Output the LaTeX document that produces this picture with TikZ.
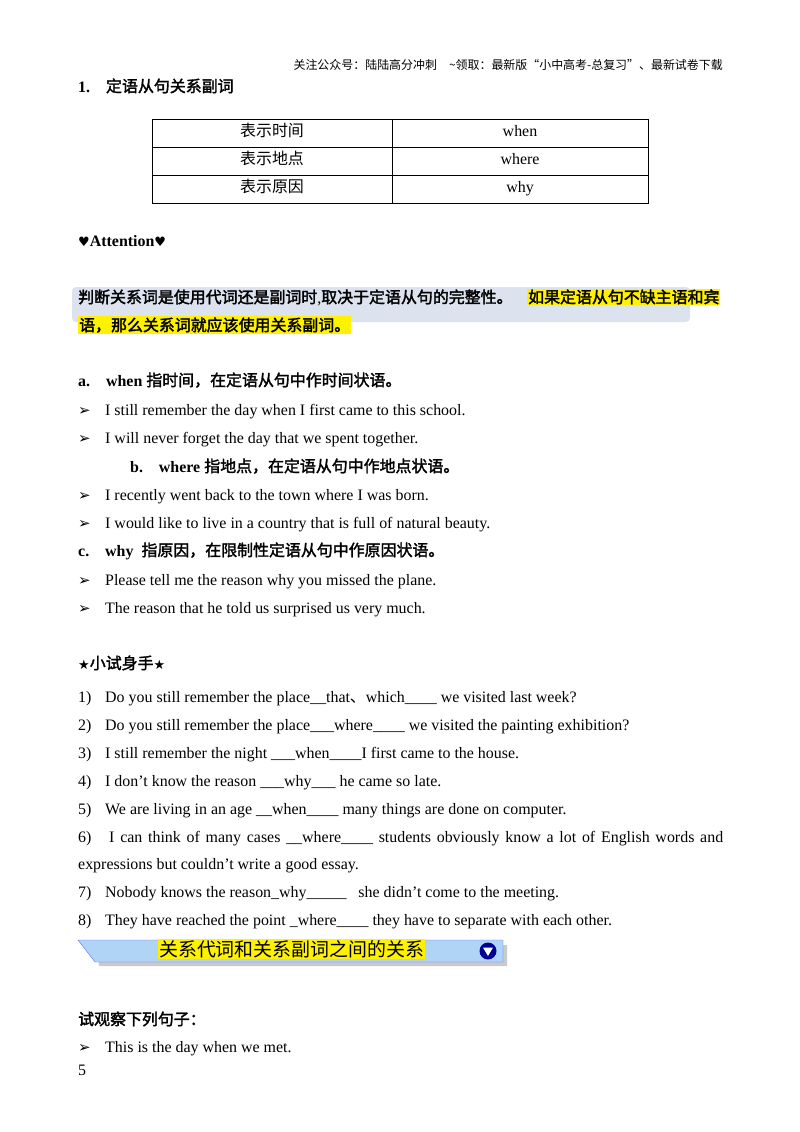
\documentclass[tikz,border=0pt]{standalone}
\usepackage{fontspec}
\setmainfont{Liberation Serif}
\newfontfamily\cjk{Noto Sans CJK SC}
\newfontfamily\cjkb{Noto Sans CJK SC}[FakeBold=2]
\newfontfamily\sym{DejaVu Sans}
\definecolor{bannerblue}{RGB}{175,212,245}
\definecolor{boxgray}{RGB}{220,226,238}
\begin{document}
\begin{tikzpicture}[x=1bp,y=-1bp,
  t/.style={anchor=base west,inner sep=0pt,font=\fontsize{16}{18}\selectfont},
  hl/.style={fill=yellow,inner sep=1pt},
  bul/.style={anchor=base west,inner sep=0pt,font=\sym\fontsize{15}{16}\selectfont},
  cell/.style={draw=black,line width=0.6pt}]
\useasboundingbox (0,0) rectangle (800,1132);
\node[anchor=base east,inner sep=0pt,font=\fontsize{12}{14}\selectfont] (hd) at (723,69) {{\cjk 关注公众号：陆陆高分冲刺\quad\textasciitilde 领取：最新版“小中高考-总复习”、最新试卷下载}};
\node[t] (h1) at (78,92) {\textbf{1.}\quad{\cjkb 定语从句关系副词}};
% table
\draw[cell] (152,119) rectangle (648,203);
\draw[cell] (152,147) -- (648,147) (152,175) -- (648,175) (392,119) -- (392,203);
\foreach \y/\a/\b in {136/表示时间/when,164/表示地点/where,192/表示原因/why}{
  \node[anchor=base,inner sep=0pt,font=\cjk\fontsize{16}{18}\selectfont] at (272,\y) {\a};
  \node[anchor=base,inner sep=0pt,font=\fontsize{16}{18}\selectfont] at (520,\y) {\b};}
\node[t] (att) at (78,246) {{\sym\fontsize{13}{14}\selectfont ♥}\textbf{Attention}{\sym\fontsize{13}{14}\selectfont ♥}};
\fill[boxgray,rounded corners=4pt] (72,287) rectangle (690,322);
\node[t] (p1) at (78,303) {\makebox[448bp][s]{{\cjkb 判断关系词是使用代词还是副词时},{\cjkb 取决于定语从句的完整性。}}};
\node[t,hl,anchor=base west] at (527,303) {\cjkb 如果定语从句不缺主语和宾};
\node[t,hl,anchor=base west] at (78,331) {\cjkb 语，那么关系词就应该使用关系副词。};
\node[t] at (78,386) {\textbf{a.}\quad\textbf{when} {\cjkb 指时间，在定语从句中作时间状语。}};
\foreach \y/\s in {415/I still remember the day when I first came to this school.,443/I will never forget the day that we spent together.,500/I recently went back to the town where I was born.,528/I would like to live in a country that is full of natural beauty.,585/Please tell me the reason why you missed the plane.,613/The reason that he told us surprised us very much.,1052/This is the day when we met.}{
  \node[bul] at (78,\y) {➢};
  \node[t] at (105,\y) {\s};}
\node[t] at (130,472) {\textbf{b.}\quad\textbf{where} {\cjkb 指地点，在定语从句中作地点状语。}};
\node[t] at (78,556) {\textbf{c.}\quad\textbf{why} \ {\cjkb 指原因，在限制性定语从句中作原因状语。}};
\node[t] at (78,669) {{\sym\fontsize{13}{14}\selectfont ★}{\cjkb 小试身手}{\sym\fontsize{13}{14}\selectfont ★}};
\foreach \y/\n/\s in {
 702/1)/{Do you still remember the place\_\_that{\cjk 、}which\_\_\_\_ we visited last week?},
 730/2)/{Do you still remember the place\_\_\_where\_\_\_\_ we visited the painting exhibition?},
 758/3)/{I still remember the night \_\_\_when\_\_\_\_I first came to the house.},
 786/4)/{I don’t know the reason \_\_\_why\_\_\_ he came so late.},
 814/5)/{We are living in an age \_\_when\_\_\_\_ many things are done on computer.},
 897/7)/{Nobody knows the reason\_why\_\_\_\_\_\ \ \ she didn’t come to the meeting.},
 925/8)/{They have reached the point \_where\_\_\_\_ they have to separate with each other.}}{
  \node[t] at (78,\y) {\n};
  \node[t] at (105,\y) {\s};}
\node[t] at (78,842) {\makebox[645bp][s]{6)\hspace{12bp} I can think of many cases \_\_where\_\_\_\_ students obviously know a lot of English words and}};
\node[t] at (78,869) {expressions but couldn't write a good essay.};
% banner
\fill[gray!70,opacity=0.6] (97,945) -- (507,945) -- (507,966) -- (99,966) -- cycle;
\draw[fill=bannerblue,draw=blue!60] (78,940) -- (503,940) -- (503,962) -- (95,962) -- cycle;
\node[anchor=base west,fill=yellow,inner sep=1pt,font=\cjk\fontsize{19}{21}\selectfont] (bn) at (158,956) {关系代词和关系副词之间的关系};
\fill[blue!60!black] (488,951) circle (8.5);
\fill[white] (483,947.5) -- (493,947.5) -- (488,956) -- cycle;
\node[t] at (78,1025) {\cjkb 试观察下列句子：};
\node[t] at (78,1075) {5};
\end{tikzpicture}
\end{document}
